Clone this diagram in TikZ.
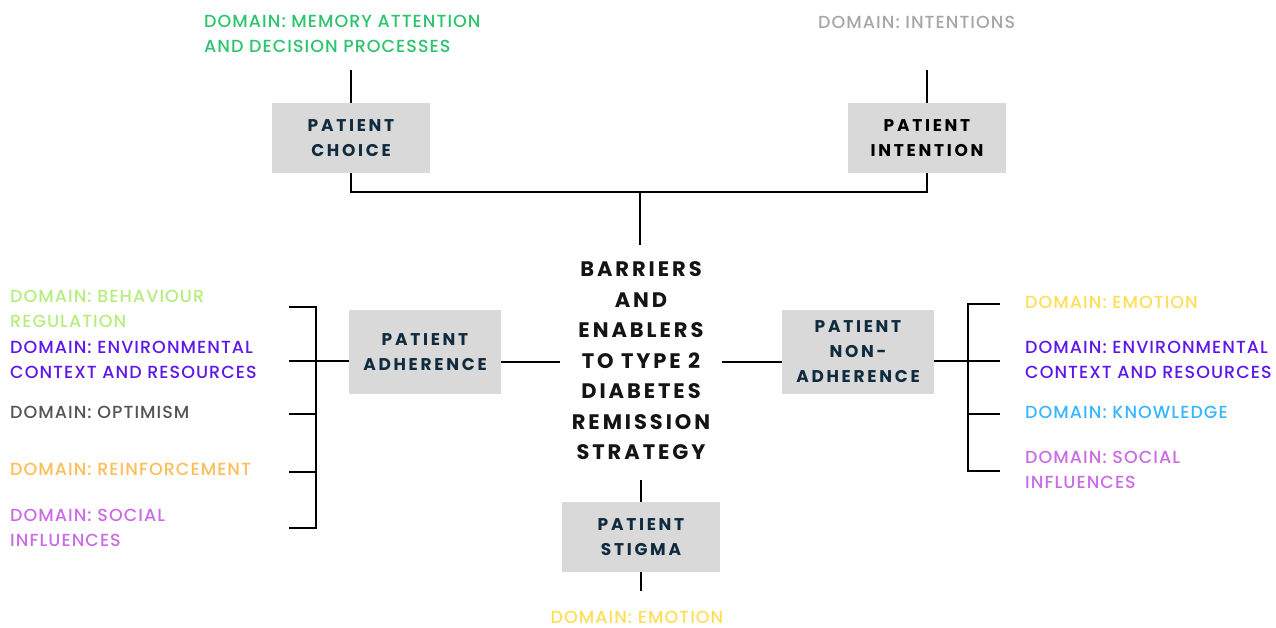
\documentclass[tikz,border=0pt]{standalone}
\usepackage{fontspec}
\newfontfamily\popp[LetterSpace=6]{Poppins Medium}
\newfontfamily\headfont[LetterSpace=14]{Poppins}
\newfontfamily\boxfontfam[LetterSpace=16]{Poppins}
\definecolor{boxgray}{HTML}{D9D9D9}
\definecolor{navy}{HTML}{0F2B3D}
\definecolor{cMem}{HTML}{2CC46C}
\definecolor{cInt}{HTML}{A6A6A6}
\definecolor{cBeh}{HTML}{B5EE7E}
\definecolor{cEnv}{HTML}{5E17EB}
\definecolor{cOpt}{HTML}{545454}
\definecolor{cRei}{HTML}{FFBD59}
\definecolor{cSoc}{HTML}{CB6CE6}
\definecolor{cEmo}{HTML}{FFDE59}
\definecolor{cKno}{HTML}{38B6FF}
\begin{document}
\begin{tikzpicture}[x=1pt,y=-1pt,
  box/.style={fill=boxgray, minimum width=158pt, minimum height=70pt, align=center, inner sep=0pt,
    font=\boxfontfam\bfseries\fontsize{17}{25}\selectfont, text=navy},
  dom/.style={anchor=north west, align=left, inner sep=0pt, font=\popp\fontsize{17.5}{25}\selectfont},
  ln/.style={line width=2.4pt, black}]
\useasboundingbox (0,0) rectangle (1276,628);

% center
\node[align=center, inner sep=0pt, font=\headfont\bfseries\fontsize{21}{30.5}\selectfont, text=black!92]
  (center) at (641,361) {BARRIERS\\AND\\ENABLERS\\TO TYPE 2\\DIABETES\\REMISSION\\STRATEGY};

% boxes
\node[box] (choice) at (351,138) {PATIENT\\CHOICE};
\node[box, text=black] (intent) at (927,138) {PATIENT\\INTENTION};
\node[box, minimum width=152pt, minimum height=84pt] (adh) at (425,352) {PATIENT\\ADHERENCE};
\node[box, minimum width=152pt, minimum height=84pt] (nonadh) at (858,352) {PATIENT\\NON-\\ADHERENCE};
\node[box] (stigma) at (641,537) {PATIENT\\STIGMA};

% domain texts
\node[dom, text=cMem] (dmem) at (204,15) {DOMAIN: MEMORY ATTENTION\\AND DECISION PROCESSES};
\node[dom, text=cInt] (dint) at (818,16) {DOMAIN: INTENTIONS};
\node[dom, text=cBeh] (dbeh) at (10,290) {DOMAIN: BEHAVIOUR\\REGULATION};
\node[dom, text=cEnv] (denvl) at (10,341) {DOMAIN: ENVIRONMENTAL\\CONTEXT AND RESOURCES};
\node[dom, text=cOpt] (dopt) at (10,406) {DOMAIN: OPTIMISM};
\node[dom, text=cRei] (drei) at (10,463) {DOMAIN: REINFORCEMENT};
\node[dom, text=cSoc] (dsocl) at (10,509) {DOMAIN: SOCIAL\\INFLUENCES};
\node[dom, text=cEmo] (demor) at (1025,296) {DOMAIN: EMOTION};
\node[dom, text=cEnv] (denvr) at (1025,341) {DOMAIN: ENVIRONMENTAL\\CONTEXT AND RESOURCES};
\node[dom, text=cKno] (dkno) at (1025,406) {DOMAIN: KNOWLEDGE};
\node[dom, text=cSoc] (dsocr) at (1025,451) {DOMAIN: SOCIAL\\INFLUENCES};
\node[inner sep=0pt, font=\popp\fontsize{17.5}{25}\selectfont, text=cEmo] (demob) at (637,617) {DOMAIN: EMOTION};

% coordinates
\coordinate (ctop) at (640,70);
\coordinate (itop) at (926,70);
\coordinate (join) at (640,192);
\coordinate (cup) at (640,245);
\coordinate (cdown) at (641,480);
\coordinate (sbot) at (641,591);
\coordinate (lw) at (560,362);
\coordinate (re) at (722,362);
\coordinate (l1) at (289,307);
\coordinate (l2) at (289,361);
\coordinate (l3) at (289,414);
\coordinate (l4) at (289,472);
\coordinate (l5) at (289,528);
\coordinate (r1) at (1000,304);
\coordinate (r2) at (1000,361);
\coordinate (r3) at (1000,414);
\coordinate (r4) at (1000,471);

% top connectors
\draw[ln] (choice.north) -- (choice.north |- ctop);
\draw[ln] (intent.north) -- (intent.north |- itop);
\draw[ln] (choice.south) |- (join) -| (intent.south);
\draw[ln] (join) -- (cup);

% center connectors
\draw[ln] (adh.east |- lw) -- (lw);
\draw[ln] (re) -- (nonadh.west |- re);
\draw[ln] (cdown) -- (stigma.north);
\draw[ln] (stigma.south) -- (sbot);

% left bracket
\draw[ln] (l1) -- (316,307) -- (316,528) -- (l5);
\draw[ln] (l2) -- (adh.west |- l2);
\draw[ln] (l3) -- (316,414);
\draw[ln] (l4) -- (316,472);

% right bracket
\draw[ln] (r1) -- (968,304) -- (968,471) -- (r4);
\draw[ln] (nonadh.east |- r2) -- (r2);
\draw[ln] (968,414) -- (r3);
\end{tikzpicture}
\end{document}
